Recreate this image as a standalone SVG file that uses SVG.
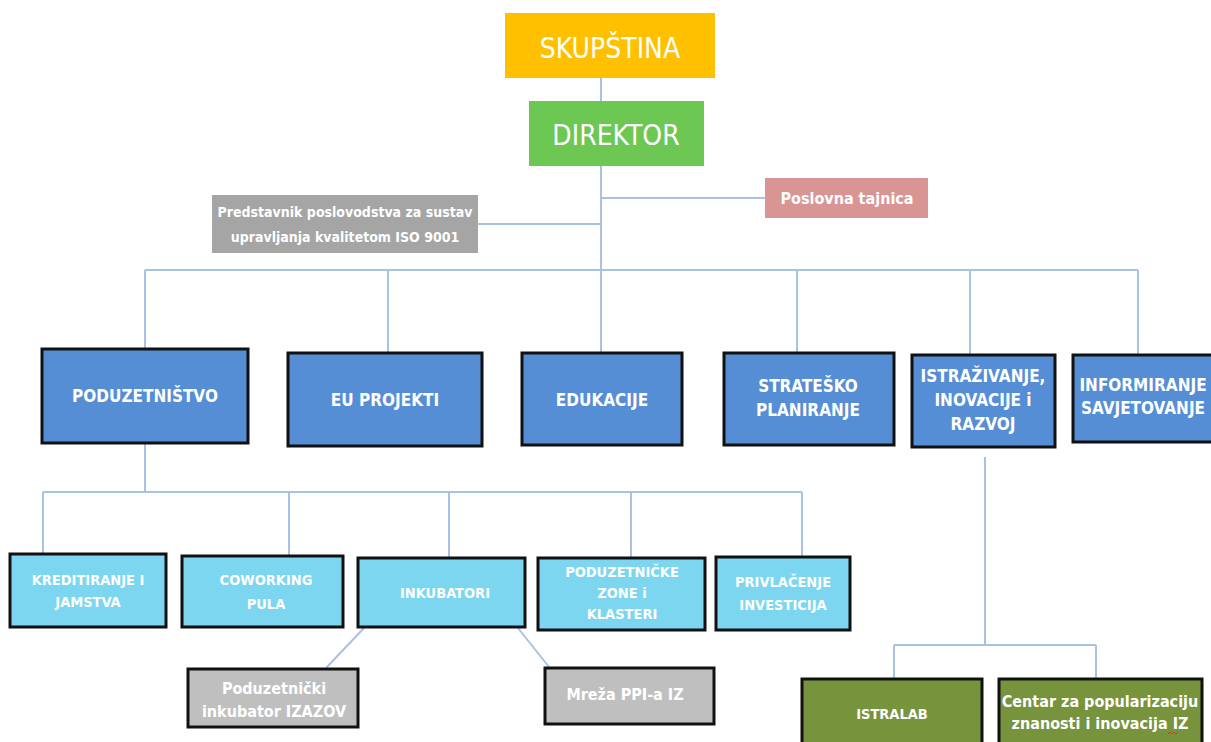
<svg xmlns="http://www.w3.org/2000/svg" width="1211" height="742" viewBox="0 0 1211 742">
<style>
text{font-family:"DejaVu Sans Condensed","Liberation Sans Narrow","Liberation Sans",sans-serif;fill:#fff;text-anchor:middle;font-stretch:condensed}
.top{font-size:28px}
.lvl1{font-size:17px;font-weight:bold}
.lvl2{font-size:14.5px;font-weight:bold}
.small{font-size:14px;font-weight:bold}
.gtx{font-size:16px;font-weight:bold}
.blue{fill:#558ED5;stroke:#111;stroke-width:3}
.lblue{fill:#7DD6F0;stroke:#111;stroke-width:3}
.gray{fill:#BFBFBF;stroke:#111;stroke-width:3}
.olive{fill:#77933C;stroke:#111;stroke-width:3}
.conn{fill:none;stroke:#A9C1E3;stroke-width:2}
</style>
<rect width="1211" height="742" fill="#fff"/>
<g id="connectors" class="conn">
<path d="M601 78V101"/>
<path d="M601 166V270"/>
<path d="M601 198H765"/>
<path d="M478 224H601"/>
<path d="M145 270H1138"/>
<path d="M145 270V348M388 270V352M601 270V352M797 270V352M970 270V354M1138 270V354"/>
<path d="M145 443V492M43 492H802"/>
<path d="M43 492V553M289 492V555M449 492V557M631 492V557M802 492V556"/>
<path d="M364 628L326 668M518 628L549 667"/>
<path d="M985 457V645M894 645H1096M894 645V678M1096 645V678"/>
</g>
<g id="skupstina"><rect x="505" y="13" width="210" height="65" fill="#FFC000"/><text class="top" x="610" y="58">SKUPŠTINA</text></g>
<g id="direktor"><rect x="529" y="101" width="175" height="65" fill="#6DC753"/><text class="top" x="616" y="145" font-size="26">DIREKTOR</text></g>
<g id="tajnica"><rect x="765" y="178" width="163" height="40" fill="#D99594"/><text class="gtx" x="847" y="204">Poslovna tajnica</text></g>
<g id="predstavnik"><rect x="212" y="195" width="266" height="58" fill="#A5A5A5"/><text class="small" x="345" y="217">Predstavnik poslovodstva za sustav</text><text class="small" x="345" y="242">upravljanja kvalitetom ISO 9001</text></g>
<g id="poduzetnistvo"><rect class="blue" x="42" y="349" width="206" height="94"/><text class="lvl1" x="145" y="402">PODUZETNIŠTVO</text></g>
<g id="euprojekti"><rect class="blue" x="288" y="353" width="194" height="93"/><text class="lvl1" x="385" y="406">EU PROJEKTI</text></g>
<g id="edukacije"><rect class="blue" x="522" y="353" width="160" height="92"/><text class="lvl1" x="602" y="406">EDUKACIJE</text></g>
<g id="strateško"><rect class="blue" x="724" y="353" width="170" height="92"/><text class="lvl1" x="808" y="392">STRATEŠKO</text><text class="lvl1" x="808" y="416">PLANIRANJE</text></g>
<g id="istrazivanje"><rect class="blue" x="912" y="355" width="143" height="92"/><text class="lvl1" x="983" y="382">ISTRAŽIVANJE,</text><text class="lvl1" x="983" y="406">INOVACIJE i</text><text class="lvl1" x="983" y="430">RAZVOJ</text></g>
<g id="informiranje"><rect class="blue" x="1073" y="355" width="145" height="87"/><text class="lvl1" x="1143" y="391">INFORMIRANJE</text><text class="lvl1" x="1143" y="414">SAVJETOVANJE</text></g>
<g id="kreditiranje"><rect class="lblue" x="10" y="554" width="156" height="73"/><text class="lvl2" x="88" y="585">KREDITIRANJE I</text><text class="lvl2" x="88" y="607">JAMSTVA</text></g>
<g id="coworking"><rect class="lblue" x="182" y="556" width="161" height="71"/><text class="lvl2" x="266" y="585">COWORKING</text><text class="lvl2" x="266" y="609">PULA</text></g>
<g id="inkubatori"><rect class="lblue" x="358" y="558" width="167" height="69"/><text class="lvl2" x="445" y="598">INKUBATORI</text></g>
<g id="zone"><rect class="lblue" x="538" y="558" width="167" height="72"/><text class="lvl2" x="622" y="577">PODUZETNIČKE</text><text class="lvl2" x="622" y="598">ZONE i</text><text class="lvl2" x="622" y="619">KLASTERI</text></g>
<g id="privlacenje"><rect class="lblue" x="716" y="557" width="134" height="73"/><text class="lvl2" x="783" y="587">PRIVLAČENJE</text><text class="lvl2" x="783" y="610">INVESTICIJA</text></g>
<g id="izazov"><rect class="gray" x="188" y="669" width="170" height="58"/><text class="gtx" x="274" y="694">Poduzetnički</text><text class="gtx" x="274" y="717">inkubator  IZAZOV</text></g>
<g id="mreza"><rect class="gray" x="545" y="668" width="169" height="56"/><text class="gtx" x="625" y="700">Mreža PPI-a IZ</text></g>
<g id="istralab"><rect class="olive" x="802" y="679" width="180" height="70"/><text class="lvl2" x="892" y="719">ISTRALAB</text></g>
<g id="centar"><rect class="olive" x="999" y="679" width="203" height="70"/><text class="gtx" x="1100" y="707">Centar za popularizaciju</text><text class="gtx" x="1100" y="729">znanosti i inovacija IZ</text><path d="M1168 734l2-2 2 2 2-2 2 2 2-2" fill="none" stroke="#E03030" stroke-width="1"/></g>
</svg>
